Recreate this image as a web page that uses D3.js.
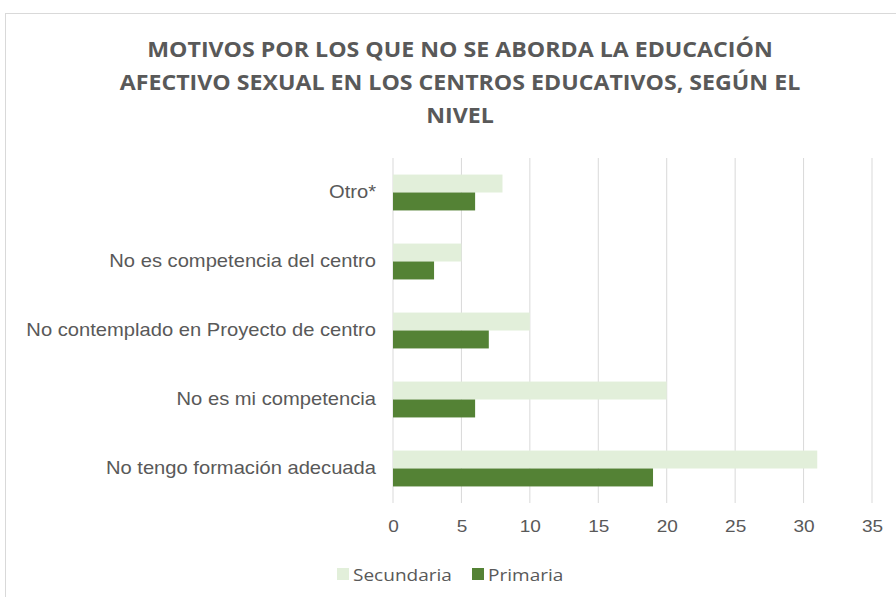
<!DOCTYPE html>
<html>
<head>
<meta charset="utf-8">
<script src="https://cdn.jsdelivr.net/npm/d3@7"></script>
<style>
  body { margin: 0; background: #fff; }
  text { fill: #595959; }
</style>
</head>
<body>
<div id="app"></div>
<script>
'use strict'
const categories = [
  'Otro*',
  'No es competencia del centro',
  'No contemplado en Proyecto de centro',
  'No es mi competencia',
  'No tengo formación adecuada'
]
const secundaria = [8, 5, 10, 20, 31]
const primaria = [6, 3, 7, 6, 19]
const seriesNames = ['Secundaria', 'Primaria']
const xTicks = [0, 5, 10, 15, 20, 25, 30, 35]
const titleLines = [
  'MOTIVOS POR LOS QUE NO SE ABORDA LA EDUCACIÓN',
  'AFECTIVO SEXUAL EN LOS CENTROS EDUCATIVOS, SEGÚN EL',
  'NIVEL'
]

const W = 896, H = 597
const margin = { top: 158, left: 393, right: 24, bottom: 94 }
const colors = { Secundaria: '#E2EFDA', Primaria: '#548235' }
// the original picture is a bit wider than tall, so text gets stretched
const stretch = 1.12

const svg = d3.select('#app').append('svg')
  .attr('width', W).attr('height', H)
  .style('font-family', '"Liberation Sans", Arial, sans-serif')

// chart frame
svg.append('rect')
  .attr('x', 5.5).attr('y', 13.5)
  .attr('width', 920).attr('height', 620)
  .attr('fill', 'none').attr('stroke', '#D9D9D9')

const x = d3.scaleLinear().domain([0, 35]).range([margin.left, W - margin.right])
const y = d3.scaleBand().domain(categories).range([margin.top, H - margin.bottom]).paddingInner(0.48).paddingOuter(0.24)
const ySub = d3.scaleBand().domain(seriesNames).range([0, y.bandwidth()])

// gridlines
svg.append('g')
  .selectAll('line')
  .data(xTicks)
  .join('line')
  .attr('x1', d => x(d)).attr('x2', d => x(d))
  .attr('y1', margin.top).attr('y2', H - margin.bottom)
  .attr('stroke', '#D9D9D9').attr('stroke-width', 1)

const rows = categories.map((c, i) => ({ c, Secundaria: secundaria[i], Primaria: primaria[i] }))

const groups = svg.append('g').selectAll('g')
  .data(rows)
  .join('g')
  .attr('transform', d => `translate(0, ${y(d.c)})`)

groups.selectAll('rect')
  .data(d => seriesNames.map(s => ({ s, v: d[s] })))
  .join('rect')
  .attr('x', x(0))
  .attr('y', d => ySub(d.s))
  .attr('width', d => x(d.v) - x(0))
  .attr('height', ySub.bandwidth())
  .attr('fill', d => colors[d.s])

// category axis
const yAxis = svg.append('g')
  .attr('transform', `translate(${margin.left}, 0)`)
  .call(d3.axisLeft(y).tickSize(0).tickPadding(17))
yAxis.select('.domain').remove()
yAxis.selectAll('text')
  .style('font-size', '18px').attr('fill', '#595959')
  .attr('x', -17 / stretch)
  .attr('transform', `scale(${stretch},1)`)

// value axis
const xAxis = svg.append('g')
  .attr('transform', `translate(0, ${H - margin.bottom})`)
  .call(d3.axisBottom(x).tickValues(xTicks).tickSize(0).tickPadding(17))
xAxis.select('.domain').remove()
xAxis.selectAll('text')
  .style('font-size', '17px').attr('fill', '#595959')
  .attr('transform', `scale(${stretch},1)`)

// title
const title = svg.append('g').selectAll('text')
  .data(titleLines)
  .join('text')
  .attr('text-anchor', 'middle')
  .style('font-family', '"Open Sans", sans-serif')
  .style('font-weight', 'bold')
  .style('font-size', '22px')
  .text(d => d)
const firstW = title.node().getComputedTextLength()
const titleScale = 626 / firstW
title.attr('transform', (d, i) => `translate(460, ${57 + i * 33}) scale(${titleScale},1)`)

// legend
const legend = svg.append('g').attr('transform', 'translate(337, 574)')
const legendX = [0, 135]
seriesNames.forEach((s, i) => {
  const g = legend.append('g').attr('transform', `translate(${legendX[i]}, 0)`)
  g.append('rect').attr('x', 0).attr('y', -6).attr('width', 12).attr('height', 12).attr('fill', colors[s])
  g.append('text')
    .attr('transform', `translate(16, 7) scale(${stretch},1)`)
    .style('font-family', '"Open Sans", sans-serif')
    .style('font-size', '17px')
    .text(s)
})
</script>
</body>
</html>
